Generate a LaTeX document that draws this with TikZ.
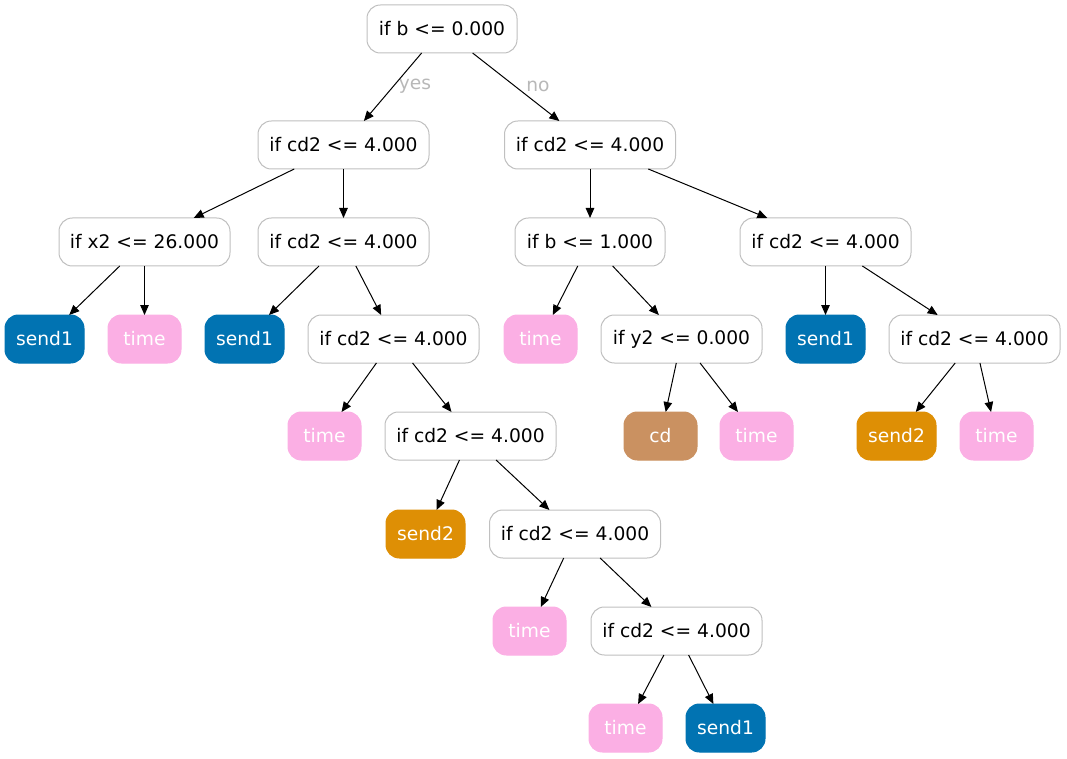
\documentclass[tikz,border=0pt]{standalone}
\usepackage{fontspec}
\setmainfont{DejaVu Sans}
\usetikzlibrary{arrows.meta}
\definecolor{csend1}{HTML}{0173B2}
\definecolor{ctime}{HTML}{FBAFE4}
\definecolor{ccd}{HTML}{CA9161}
\definecolor{csend2}{HTML}{DE8F05}
\definecolor{cborder}{HTML}{C0C0C0}
\definecolor{clabel}{HTML}{B8B8B8}
\tikzset{
  base/.style={rounded corners=10pt, minimum height=36pt, inner sep=0pt, outer sep=0pt, line width=0.75pt, font=\fontsize{14}{17}\selectfont},
  dec/.style={base, draw=cborder, fill=white, minimum width=128.25pt, text=black},
  leafA/.style={base, draw=csend1, fill=csend1, text=white, minimum width=59.25pt},
  leafB/.style={base, draw=ctime, fill=ctime, text=white, minimum width=54.75pt},
  leafC/.style={base, draw=ccd, fill=ccd, text=white, minimum width=54.75pt},
  leafD/.style={base, draw=csend2, fill=csend2, text=white, minimum width=59.25pt},
  edge/.style={line width=0.75pt, -{Triangle[length=7.5pt,width=6.4pt]}},
  elabel/.style={text=clabel, font=\fontsize{14}{17}\selectfont, inner sep=0pt}
}
\begin{document}
\begin{tikzpicture}[x=0.75pt,y=-0.75pt]
\useasboundingbox (0,0) rectangle (1067,759);
% row 0
\node[dec, minimum width=112.5pt] (root) at (442,29) {if b <= 0.000};
% row 1
\node[dec] (n1L) at (343.5,145) {if cd2 <= 4.000};
\node[dec] (n1R) at (590,145) {if cd2 <= 4.000};
% row 2
\node[dec] (x2) at (144.5,242) {if x2 <= 26.000};
\node[dec] (c2a) at (343.5,242) {if cd2 <= 4.000};
\node[dec, minimum width=112.5pt] (b1) at (590,242) {if b <= 1.000};
\node[dec] (c2b) at (825.5,242) {if cd2 <= 4.000};
% row 3
\node[leafA] (s1a) at (44.5,339) {send1};
\node[leafB] (t1) at (144.5,339) {time};
\node[leafA] (s1b) at (244.5,339) {send1};
\node[dec] (c3a) at (393.5,339) {if cd2 <= 4.000};
\node[leafB] (t5) at (540.5,339) {time};
\node[dec, minimum width=120.75pt] (y2) at (681.5,339) {if y2 <= 0.000};
\node[leafA] (s1c) at (825.5,339) {send1};
\node[dec] (c3b) at (974.5,339) {if cd2 <= 4.000};
% row 4
\node[leafB] (t2) at (324.5,436) {time};
\node[dec] (c4a) at (470.5,436) {if cd2 <= 4.000};
\node[leafC] (cd) at (660.5,436) {cd};
\node[leafB] (t6) at (756.5,436) {time};
\node[leafD] (s2b) at (896.5,436) {send2};
\node[leafB] (t7) at (996.5,436) {time};
% row 5
\node[leafD] (s2a) at (425.5,534) {send2};
\node[dec] (c5) at (575,534) {if cd2 <= 4.000};
% row 6
\node[leafB] (t3) at (529.5,631) {time};
\node[dec] (c6) at (676.5,631) {if cd2 <= 4.000};
% row 7
\node[leafB] (t4) at (625.5,728) {time};
\node[leafA] (s1e) at (725.5,728) {send1};
% labels
\node[elabel] (lyes) at (415,86) {yes};
\node[elabel] (lno) at (538,86) {no};
% edges
\draw[edge] (root) -- (n1L);
\draw[edge] (root) -- (n1R);
\draw[edge] (n1L) -- (x2);
\draw[edge] (n1L) -- (c2a);
\draw[edge] (x2) -- (s1a);
\draw[edge] (x2) -- (t1);
\draw[edge] (c2a) -- (s1b);
\draw[edge] (c2a) -- (c3a);
\draw[edge] (c3a) -- (t2);
\draw[edge] (c3a) -- (c4a);
\draw[edge] (c4a) -- (s2a);
\draw[edge] (c4a) -- (c5);
\draw[edge] (c5) -- (t3);
\draw[edge] (c5) -- (c6);
\draw[edge] (c6) -- (t4);
\draw[edge] (c6) -- (s1e);
\draw[edge] (n1R) -- (b1);
\draw[edge] (n1R) -- (c2b);
\draw[edge] (b1) -- (t5);
\draw[edge] (b1) -- (y2);
\draw[edge] (y2) -- (cd);
\draw[edge] (y2) -- (t6);
\draw[edge] (c2b) -- (s1c);
\draw[edge] (c2b) -- (c3b);
\draw[edge] (c3b) -- (s2b);
\draw[edge] (c3b) -- (t7);
\end{tikzpicture}
\end{document}
